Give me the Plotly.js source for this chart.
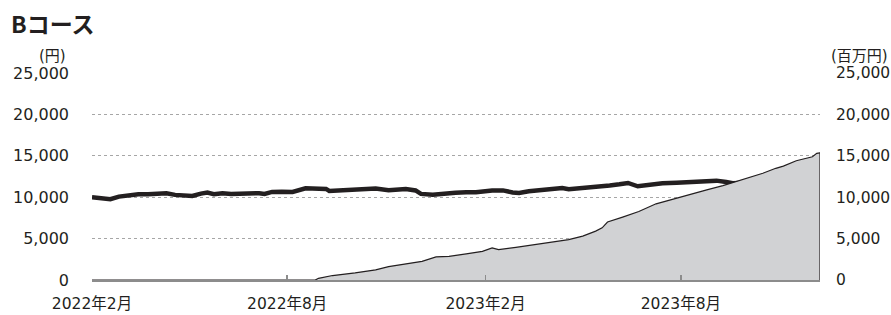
<!DOCTYPE html>
<html>
<head>
<meta charset="utf-8">
<script src="https://cdn.plot.ly/plotly-3.0.1.min.js"></script>
<style>
html,body{margin:0;padding:0;background:#fff;}
#chart{width:891px;height:315px;}
</style>
</head>
<body>
<div id="chart"></div>
<script>
// ---- data ----
const navDates = [
  "2022-02-01","2022-02-11","2022-02-18","2022-02-26","2022-03-07","2022-03-16","2022-03-25",
  "2022-04-04","2022-04-11","2022-04-19","2022-04-29","2022-05-05","2022-05-13","2022-05-19",
  "2022-05-25","2022-06-02","2022-06-10","2022-06-20","2022-06-27","2022-07-06","2022-07-11",
  "2022-07-18","2022-07-27","2022-08-06","2022-08-18","2022-08-27","2022-09-06","2022-09-09",
  "2022-09-18","2022-09-30","2022-10-13","2022-10-22","2022-11-03","2022-11-19","2022-11-28",
  "2022-12-03","2022-12-14","2022-12-26","2023-01-04","2023-01-14","2023-01-23","2023-02-07",
  "2023-02-17","2023-02-26","2023-03-04","2023-03-13","2023-03-29","2023-04-13","2023-04-19",
  "2023-05-05","2023-05-14","2023-05-27","2023-06-05","2023-06-13","2023-06-22","2023-07-03",
  "2023-07-15","2023-07-28","2023-08-09","2023-08-21","2023-09-03","2023-09-12","2023-09-18",
  "2023-10-01","2023-10-10","2023-10-16","2023-10-28","2023-11-10","2023-11-22","2023-12-05",
  "2023-12-08"
];
const navValues = [
  10000, 9880, 9760, 10070, 10280, 10360, 10360,
  10430, 10480, 10280, 10120, 10160, 10430, 10550,
  10360, 10480, 10400, 10430, 10550, 10480, 10400,
  10640, 10670, 10640, 11080, 11000, 11000, 10760,
  10820, 10880, 10940, 11060, 10840, 11000, 10820,
  10400, 10300, 10480, 10550, 10600, 10600, 10820,
  10820, 10580, 10520, 10720, 10940, 11120, 10970,
  11120, 11180, 11420, 11560, 11720, 11320, 11520,
  11680, 11760, 11880, 12000, 12000, 11840, 11680,
  11760, 11800, 12000, 12160, 12080, 12080, 12160,
  12080
];
const assetDates = [
  "2022-02-01","2022-08-27","2022-08-30","2022-09-12","2022-10-03","2022-10-22","2022-11-03",
  "2022-11-19","2022-12-04","2022-12-17","2022-12-29","2023-01-14","2023-01-29","2023-02-07",
  "2023-02-13","2023-03-01","2023-03-20","2023-04-04","2023-04-19","2023-05-02","2023-05-08",
  "2023-05-14","2023-05-20","2023-05-25","2023-06-08","2023-06-23","2023-07-09","2023-07-24",
  "2023-08-09","2023-08-25","2023-09-09","2023-09-21","2023-10-04","2023-10-16","2023-10-28",
  "2023-11-04","2023-11-16","2023-11-25","2023-12-01","2023-12-05","2023-12-08"
];
const assetValues = [
  0, 0, 200, 540, 865, 1230, 1620,
  1950, 2260, 2790, 2860, 3150, 3460, 3870,
  3670, 3940, 4270, 4590, 4870, 5300, 5600,
  5900, 6300, 7000, 7600, 8270, 9200, 9760,
  10280, 10880, 11390, 11880, 12400, 12890, 13490,
  13760, 14400, 14690, 14880, 15290, 15360
];
const xTickVals = ["2022-02-01","2022-08-01","2023-02-01","2023-08-01"];
const xTickText = ["2022年2月","2022年8月","2023年2月","2023年8月"];
const yTickVals = [0, 5000, 10000, 15000, 20000, 25000];
const yTickText = ["0","5,000","10,000","15,000","20,000","25,000"];

const FONT = "DejaVu Sans, 'Noto Sans CJK JP', sans-serif";
const TXT = "#231f20";

const traces = [
  {
    x: assetDates, y: assetValues, yaxis: "y2", type: "scatter", mode: "lines",
    fill: "tozeroy", fillcolor: "#d1d2d4",
    line: {color: "#231f20", width: 1.2}, hoverinfo: "skip"
  },
  {
    x: navDates, y: navValues, yaxis: "y", type: "scatter", mode: "lines",
    line: {color: "#231f20", width: 4.5}, hoverinfo: "skip"
  }
];

const lastIdx = assetDates.length - 1;

const layout = {
  width: 891, height: 315,
  margin: {l: 92, r: 71, t: 73, b: 35, pad: 0},
  paper_bgcolor: "#fff", plot_bgcolor: "#fff",
  showlegend: false,
  font: {family: FONT, color: TXT, size: 16},
  title: {
    text: "<b>Bコース</b>",
    font: {family: "'Noto Sans CJK JP', sans-serif", size: 23, color: TXT},
    xref: "container", yref: "container",
    x: 11/891, xanchor: "left", y: 1 - 25/315, yanchor: "middle"
  },
  xaxis: {
    type: "date",
    range: [navDates[0], navDates[navDates.length - 1]],
    tickvals: xTickVals, ticktext: xTickText,
    ticks: "inside", ticklen: 5, tickwidth: 1.5, tickcolor: "#8c8c8c",
    showline: true, linecolor: "#8c8c8c", linewidth: 2,
    showgrid: false, zeroline: false,
    tickfont: {family: FONT, size: 15.5, color: TXT},
    ticklabelstandoff: 8,
    fixedrange: true
  },
  yaxis: {
    range: [0, 25000],
    tickvals: yTickVals, ticktext: yTickText,
    showgrid: true, gridcolor: "#a6a6a6", gridwidth: 1.3, griddash: "dot",
    zeroline: false, showline: false, ticks: "",
    tickfont: {family: FONT, size: 16, color: TXT},
    ticklabelstandoff: 22,
    fixedrange: true
  },
  yaxis2: {
    overlaying: "y", side: "right",
    range: [0, 25000],
    tickvals: yTickVals, ticktext: yTickText,
    showgrid: false, zeroline: false, showline: false, ticks: "",
    tickfont: {family: FONT, size: 15.5, color: TXT},
    ticklabelstandoff: 15,
    fixedrange: true
  },
  shapes: [
    {
      type: "line", xref: "x", yref: "y2",
      x0: assetDates[lastIdx], x1: assetDates[lastIdx],
      y0: 0, y1: assetValues[lastIdx],
      line: {color: "#231f20", width: 1.2}
    }
  ],
  annotations: [
    {
      text: "(円)", xref: "paper", yref: "paper",
      x: -0.054, y: 1.082, xanchor: "center", yanchor: "middle",
      showarrow: false, font: {family: FONT, size: 15, color: TXT}
    },
    {
      text: "(百万円)", xref: "paper", yref: "paper",
      x: 1.054, y: 1.082, xanchor: "center", yanchor: "middle",
      showarrow: false, font: {family: FONT, size: 15, color: TXT}
    }
  ]
};

Plotly.newPlot("chart", traces, layout, {displayModeBar: false, staticPlot: true});
</script>
</body>
</html>
